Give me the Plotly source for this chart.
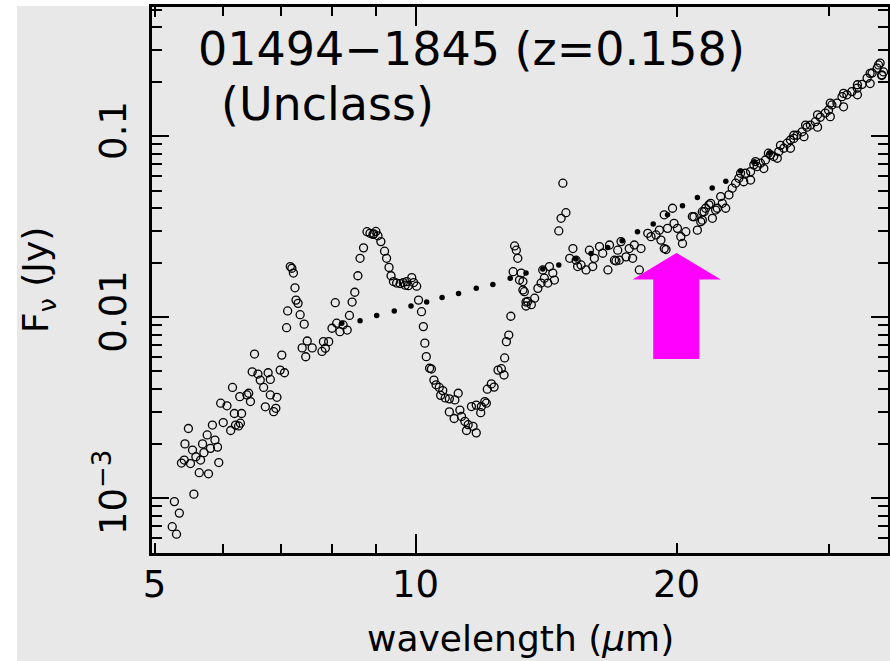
import numpy as np
import plotly.graph_objects as go

# ---------------- data (wavelength in micron, flux in Jy) ----------------
wl_a = [5.27, 5.34, 5.24, 5.30, 5.55, 5.47, 5.42, 5.37, 5.41, 5.50,
        5.53, 5.63, 5.77, 5.65, 5.70, 5.75, 5.68, 5.83, 5.87, 5.91,
        5.93, 5.80, 5.58, 6.00, 5.96, 6.06, 6.12, 6.18, 6.20, 6.30,
        6.28, 6.25, 6.15, 6.27, 6.39, 6.45, 6.42, 6.52, 6.48, 6.58,
        6.62, 6.76, 6.80, 6.68, 6.80, 6.92, 6.71, 6.86, 6.90, 7.01,
        6.98, 7.06, 7.47]
fx_a = [0.000955, 0.000825, 0.000694, 0.000631, 0.00105, 0.00242, 0.00199, 0.00156, 0.00162, 0.00155,
        0.00184, 0.00138, 0.00136, 0.00162, 0.00178, 0.00223, 0.00199, 0.00253, 0.00209, 0.00191,
        0.00157, 0.00188, 0.00169, 0.00261, 0.00334, 0.00323, 0.00236, 0.00293, 0.00253, 0.00293,
        0.00259, 0.00250, 0.00408, 0.00363, 0.00371, 0.00341, 0.00379, 0.00624, 0.00498, 0.00484,
        0.00448, 0.00492, 0.00452, 0.00408, 0.00371, 0.00360, 0.00319, 0.00300, 0.00313, 0.00616,
        0.00509, 0.00492, 0.00603]

wl_b = [7.17, 7.20, 7.23, 7.26, 7.28, 7.32, 7.12, 7.36, 7.44, 7.10,
        7.50, 7.40, 7.60, 7.83, 7.94, 7.87, 7.80, 8.01, 8.11, 8.18,
        8.25, 8.34, 8.39, 8.08, 8.45, 8.51, 8.58, 8.63, 8.71, 8.79,
        8.86, 8.95, 9.05, 9.12, 9.21, 9.26, 9.32, 9.37, 9.43, 9.51,
        9.60, 9.68, 9.73, 9.77, 9.81, 9.90, 9.95, 10.03, 10.08, 10.16,
        10.21, 10.25, 10.29, 8.93, 9.00]
fx_b = [0.0190, 0.0186, 0.0175, 0.0145, 0.0124, 0.0119, 0.0108, 0.0103, 0.00913, 0.00873,
        0.00737, 0.00675, 0.00675, 0.00731, 0.00731, 0.00672, 0.00645, 0.00867, 0.00924, 0.00830,
        0.00904, 0.00847, 0.0102, 0.0120, 0.0121, 0.0137, 0.0169, 0.0211, 0.0241, 0.0296,
        0.0290, 0.0288, 0.0281, 0.0261, 0.0231, 0.0211, 0.0188, 0.0169, 0.0157, 0.0154,
        0.0153, 0.0155, 0.0150, 0.0157, 0.0149, 0.0165, 0.0155, 0.0148, 0.0124, 0.0107,
        0.00885, 0.00717, 0.00604, 0.0286, 0.0297]

wl_c = [10.38, 10.43, 10.50, 10.56, 10.65, 10.75, 10.69, 10.82, 10.94, 11.10,
        11.20, 10.94, 11.08, 11.25, 11.30, 11.40, 11.50, 11.45, 11.65, 11.75,
        11.60, 11.75, 11.91, 11.89, 12.02, 12.07, 12.10, 12.23, 12.32, 12.45,
        12.56, 12.65, 12.67, 12.73, 12.81, 12.88, 12.96]
fx_c = [0.00521, 0.00516, 0.00448, 0.00422, 0.00408, 0.00392, 0.00369, 0.00357, 0.00353, 0.00348,
        0.00379, 0.00299, 0.00275, 0.00306, 0.00282, 0.00265, 0.00254, 0.00236, 0.00249, 0.00229,
        0.00320, 0.00326, 0.00320, 0.00296, 0.00341, 0.00334, 0.00399, 0.00427, 0.00410, 0.00509,
        0.00518, 0.00478, 0.00594, 0.00731, 0.00795, 0.0101, 0.0178]

wl_d = [13.01, 13.07, 13.12, 13.18, 13.24, 13.30, 13.30, 13.35, 13.41, 13.47,
        13.60, 13.41, 13.72, 13.84, 13.96, 14.08, 14.27, 14.40, 14.46, 14.21,
        14.02, 14.63, 14.72, 14.91, 14.79, 15.19, 15.06, 15.32, 15.52, 15.73,
        15.38, 15.87, 16.08, 16.01, 16.30, 16.44, 16.67, 16.74, 16.96, 17.11,
        17.26, 17.49, 17.64, 17.80, 17.88, 18.12, 18.20, 18.53, 18.69, 18.94,
        19.19, 19.36, 19.45, 19.11, 19.53, 19.36, 19.79, 19.87, 20.05, 20.32,
        20.23, 20.50, 20.86, 21.14, 21.33, 21.52, 21.80, 22.00, 22.29, 17.18,
        17.03]
fx_d = [0.0247, 0.0234, 0.0211, 0.0160, 0.0175, 0.0157, 0.0141, 0.0138, 0.0121, 0.0122,
        0.0117, 0.0115, 0.0127, 0.0144, 0.0154, 0.0164, 0.0190, 0.0175, 0.0160, 0.0154,
        0.0182, 0.0299, 0.0351, 0.0377, 0.0549, 0.0239, 0.0211, 0.0206, 0.0194, 0.0182,
        0.0190, 0.0234, 0.0211, 0.0190, 0.0245, 0.0225, 0.0182, 0.0250, 0.0206, 0.0234,
        0.0261, 0.0215, 0.0239, 0.0211, 0.0250, 0.0182, 0.0239, 0.0290, 0.0278, 0.0284,
        0.0266, 0.0239, 0.0236, 0.0302, 0.0309, 0.0367, 0.0399, 0.0329, 0.0309, 0.0255,
        0.0278, 0.0296, 0.0359, 0.0302, 0.0336, 0.0382, 0.0417, 0.0351, 0.0399, 0.0206,
        0.0204]

wl_e = [20.95, 21.42, 21.61, 22.19, 21.90, 22.59, 22.79, 22.49, 22.99, 23.19,
        23.40, 23.60, 23.91, 24.03, 24.35, 24.56, 24.78, 25.00, 25.33, 25.67,
        25.89, 26.24, 26.59, 26.83, 27.07, 27.31, 27.55, 27.92, 28.29, 28.54,
        28.92, 29.30, 29.69, 29.95, 30.22, 30.63, 31.04, 31.45, 31.87, 32.32,
        32.74, 33.18, 33.63, 34.08, 34.35, 34.50, 34.66, 21.42]
fx_e = [0.0358, 0.0343, 0.0399, 0.0390, 0.0425, 0.0425, 0.0399, 0.0463, 0.0473, 0.0515,
        0.0549, 0.0584, 0.0559, 0.0623, 0.0636, 0.0693, 0.0678, 0.0708, 0.0737, 0.0787,
        0.0770, 0.0820, 0.0856, 0.0913, 0.0951, 0.0970, 0.101, 0.1055, 0.112, 0.115,
        0.120, 0.127, 0.134, 0.139, 0.1485, 0.152, 0.165, 0.169, 0.176, 0.184,
        0.193, 0.209, 0.223, 0.237, 0.253, 0.218, 0.226, 0.0382]

wl_f = [23.71, 24.67, 25.53, 26.36, 27.31, 28.18, 29.09, 30.09, 31.17, 32.34, 33.45, 34.2]
fx_f = [0.0623, 0.0722, 0.0804, 0.0888, 0.101, 0.115, 0.131, 0.152, 0.172, 0.192, 0.222, 0.247]

wl_g = [24.35, 25.22, 26.14, 27.07, 28.06, 29.09, 30.09, 31.17, 32.34, 33.45, 34.5]
fx_g = [0.0571, 0.0661, 0.0754, 0.0856, 0.0992, 0.112, 0.128, 0.145, 0.169, 0.195, 0.216]

cont_wl = [8.22, 8.63, 9.02, 9.45, 9.88, 10.30, 10.73, 11.21, 11.75, 12.28,
           12.86, 13.41, 14.02, 14.63, 15.32, 15.94, 16.66, 17.31, 18.03, 18.80,
           19.53, 20.32, 21.14, 21.99, 22.80, 23.71, 24.60, 25.60]
cont_fx = [0.00924, 0.00954, 0.0102, 0.0108, 0.0115, 0.0121, 0.0128, 0.0135, 0.0144, 0.0151,
           0.0164, 0.0175, 0.0184, 0.0194, 0.0209, 0.0224, 0.0242, 0.0264, 0.0296, 0.0327,
           0.0367, 0.0412, 0.0458, 0.0516, 0.0562, 0.0640, 0.0722, 0.0806]

x_tick_vals = [5, 10, 20]
x_tick_text = ["5", "10", "20"]
x_long_tick = [10]
x_minor_vals = [6, 7, 8, 9, 30]
y_tick_vals = [1e-3, 1e-2, 1e-1]
y_tick_text = ["10<sup>\u22123</sup>", "0.01", "0.1"]
y_minor_vals = [m * 10.0 ** e for e in (-4, -3, -2, -1) for m in range(2, 10)]

title_line1 = "01494\u22121845 (z=0.158)"
title_line2 = "(Unclass)"
x_title = "wavelength (<i>\u03bc</i>m)"
y_title = "F<sub>\u03bd</sub> (Jy)"

# arrow (marks 20 micron)
arrow_tip_wl, arrow_tip_fx = 20.0, 0.0226
arrow_head_fx = 0.0161
arrow_head_wl = (17.8, 22.5)
arrow_shaft_wl = (18.8, 21.25)
arrow_tail_fx = 0.00586

# ---------------- figure ----------------
X_RANGE = [0.696, 1.545]
Y_RANGE = [-3.304, -0.287]
BG = "#e8e8e8"
FONT = "DejaVu Sans"
W, H = 890, 661
ML, MR, MT, MB = 152, 2, 7, 108
PW, PH = W - ML - MR, H - MT - MB

wavelength = wl_a + wl_b + wl_c + wl_d + wl_e + wl_f + wl_g
flux = fx_a + fx_b + fx_c + fx_d + fx_e + fx_f + fx_g

fig = go.Figure()
fig.add_trace(go.Scatter(
    x=wavelength, y=flux, mode="markers",
    marker=dict(symbol="circle-open", size=8, color="black", line=dict(width=1.3, color="black")),
    hoverinfo="skip", cliponaxis=True))
fig.add_trace(go.Scatter(
    x=cont_wl, y=cont_fx, mode="markers", xaxis="x2", yaxis="y",
    marker=dict(symbol="circle", size=5.5, color="black", line=dict(width=0)),
    hoverinfo="skip"))


def xd(v):
    return (np.log10(v) - X_RANGE[0]) / (X_RANGE[1] - X_RANGE[0])


def yd(v):
    return (np.log10(v) - Y_RANGE[0]) / (Y_RANGE[1] - Y_RANGE[0])


arrow_pts = [
    (arrow_tip_wl, arrow_tip_fx),
    (arrow_head_wl[1], arrow_head_fx),
    (arrow_shaft_wl[1], arrow_head_fx),
    (arrow_shaft_wl[1], arrow_tail_fx),
    (arrow_shaft_wl[0], arrow_tail_fx),
    (arrow_shaft_wl[0], arrow_head_fx),
    (arrow_head_wl[0], arrow_head_fx),
]
path = "M " + " L ".join(f"{xd(a):.5f},{yd(b):.5f}" for a, b in arrow_pts) + " Z"

shapes = [
    dict(type="path", path=path, xref="paper", yref="paper",
         fillcolor="#ff00ff", line=dict(width=0), layer="above"),
    # white page border (left and top strips)
    dict(type="rect", xref="paper", yref="paper", layer="below",
         x0=(0 - ML) / PW, x1=(17 - ML) / PW, y0=-MB / PH, y1=(PH + MT) / PH,
         fillcolor="white", line=dict(width=0)),
    dict(type="rect", xref="paper", yref="paper", layer="below",
         x0=(0 - ML) / PW, x1=(W - ML) / PW, y0=(PH + MT - 6) / PH, y1=(PH + MT) / PH,
         fillcolor="white", line=dict(width=0)),
]

axis_common = dict(type="log", showgrid=False, zeroline=False, ticks="inside",
                   tickcolor="black", tickwidth=2, mirror="ticks", automargin=False)

fig.update_layout(
    template="none",
    width=W, height=H,
    margin=dict(l=ML, r=MR, t=MT, b=MB, pad=0, autoexpand=False),
    paper_bgcolor=BG, plot_bgcolor=BG,
    showlegend=False,
    font=dict(family=FONT, color="black"),
    xaxis=dict(axis_common, range=X_RANGE, showline=True, linecolor="black", linewidth=2.5,
               tickmode="array", tickvals=x_tick_vals, ticktext=x_tick_text, ticklen=10,
               tickfont=dict(size=37, family=FONT, color="black"), ticklabelstandoff=-3,
               minor=dict(tickmode="array", tickvals=x_minor_vals, ticks="inside", ticklen=9,
                          tickwidth=2, tickcolor="black", showgrid=False)),
    xaxis2=dict(axis_common, range=X_RANGE, overlaying="x", anchor="y", side="bottom",
                showline=False, tickmode="array", tickvals=x_long_tick, ticklen=19,
                showticklabels=False),
    yaxis=dict(axis_common, range=Y_RANGE, showline=True, linecolor="black", linewidth=2.5,
               tickmode="array", tickvals=y_tick_vals, ticktext=y_tick_text, ticklen=17,
               tickangle=-90, tickfont=dict(size=37, family=FONT, color="black"),
               ticklabelstandoff=8,
               minor=dict(tickmode="array", tickvals=y_minor_vals, ticks="inside", ticklen=10,
                          tickwidth=2, tickcolor="black", showgrid=False)),
    shapes=shapes,
    annotations=[
        dict(text=title_line1, xref="paper", yref="paper", x=(196 - ML) / PW,
             y=(PH + MT - 20) / PH, xanchor="left", yanchor="top", showarrow=False,
             font=dict(size=46, family=FONT, color="black")),
        dict(text=title_line2, xref="paper", yref="paper", x=(219 - ML) / PW,
             y=(PH + MT - 75) / PH, xanchor="left", yanchor="top", showarrow=False,
             font=dict(size=46, family=FONT, color="black")),
        dict(text=x_title, xref="paper", yref="paper", x=0.5, y=(PH + MT - 639) / PH,
             xanchor="center", yanchor="middle", showarrow=False,
             font=dict(size=36, family=FONT, color="black")),
        dict(text=y_title, xref="paper", yref="paper", x=(38 - ML) / PW, y=0.5,
             xanchor="center", yanchor="middle", textangle=-90, showarrow=False,
             font=dict(size=36, family=FONT, color="black")),
    ],
)

fig.write_html("out.html", config={"displayModeBar": False},
               post_script="document.body.style.margin='0px';")
